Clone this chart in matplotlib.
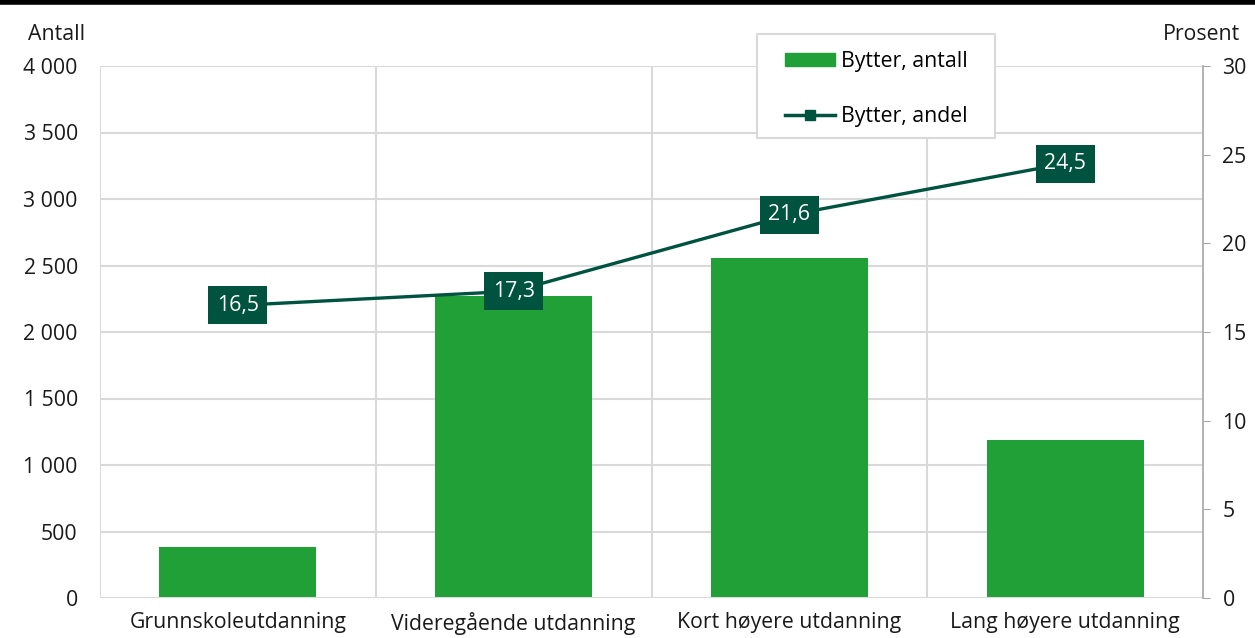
import matplotlib.pyplot as plt
import matplotlib.lines as mlines
import matplotlib.patches as mpatches
from matplotlib.ticker import FuncFormatter, MultipleLocator

plt.rcParams['font.family'] = ['Open Sans', 'DejaVu Sans']

categories = ["Grunnskoleutdanning", "Videregående utdanning", "Kort høyere utdanning", "Lang høyere utdanning"]
antall = [385, 2270, 2555, 1190]
andel = [16.5, 17.3, 21.6, 24.5]
andel_labels = ["16,5", "17,3", "21,6", "24,5"]

bar_color = "#21a038"
line_color = "#00543f"
grid_color = "#d9d9d9"
text_color = "#1a1a1a"
fs = 15.3

fig = plt.figure(figsize=(12.55, 6.38), dpi=100)
ax = fig.add_axes([100/1255, 1-598/638, (1203-100)/1255, (598-66)/638])
x = list(range(len(categories)))
ax.bar(x, antall, width=0.57, color=bar_color, zorder=3)
ax.set_xlim(-0.5, len(categories)-0.5)
ax.set_ylim(0, 4000)
ax.yaxis.set_major_locator(MultipleLocator(500))
ax.yaxis.set_major_formatter(FuncFormatter(lambda v, p: f"{int(v):,}".replace(",", " ")))
ax.set_xticks(x)
ax.set_xticklabels(categories, fontsize=fs, color=text_color)
ax.tick_params(axis='x', length=0, pad=10)
ax.tick_params(axis='y', length=0, labelsize=fs, labelcolor=text_color, pad=16)
for yy in range(500, 4001, 500):
    ax.axhline(yy, color=grid_color, lw=1.5, zorder=1)
for xb in [-0.5, 0.5, 1.5, 2.5]:
    ax.axvline(xb, color=grid_color, lw=1.5, zorder=1)
for s in ax.spines.values():
    s.set_visible(False)
ax.axhline(0, color=grid_color, lw=1.5, zorder=4)

ax2 = ax.twinx()
ax2.set_ylim(0, 30)
ax2.yaxis.set_major_locator(MultipleLocator(5))
ax2.plot(x, andel, color=line_color, lw=2.4, zorder=5)
for s in ['top', 'left', 'bottom']:
    ax2.spines[s].set_visible(False)
ax2.spines['right'].set_color("#a6a6a6")
ax2.spines['right'].set_linewidth(1.2)
ax2.tick_params(axis='y', direction='out', length=5, color="#a6a6a6", labelsize=fs, labelcolor=text_color, pad=9)
for xi, v, lab in zip(x, andel, andel_labels):
    ax2.text(xi, v, lab, ha='center', va='center', color='white', fontsize=fs, zorder=6,
             bbox=dict(boxstyle='square,pad=0.4', fc=line_color, ec='none'))

fig.text(57/1255, 1-35/638, "Antall", ha='center', va='center', fontsize=fs, color=text_color)
fig.text(1240/1255, 1-35/638, "Prosent", ha='right', va='center', fontsize=fs, color=text_color)

# top black rule
fig.add_artist(mlines.Line2D([0, 1], [1-2/638, 1-2/638], color='black', lw=4, transform=fig.transFigure))

# legend frame drawn separately
fig.add_artist(mpatches.Rectangle((757/1255, 1-138/638), (995-757)/1255, (138-34)/638,
                                  transform=fig.transFigure, fc='white', ec=grid_color, lw=1.5, zorder=9))
h1 = mpatches.Patch(color=bar_color)
h2 = mlines.Line2D([], [], color=line_color, lw=2.5, marker='s', markersize=7.5)
leg = fig.legend([h1, h2], ["Bytter, antall", "Bytter, andel"], loc='upper left',
                 bbox_to_anchor=(785/1255, 1-51/638), frameon=False, fontsize=fs,
                 borderpad=0, borderaxespad=0, labelspacing=1.6, handlelength=2.35,
                 handletextpad=0.3, handleheight=0.6)
leg.set_zorder(10)

fig.savefig("out.png", dpi=100)
